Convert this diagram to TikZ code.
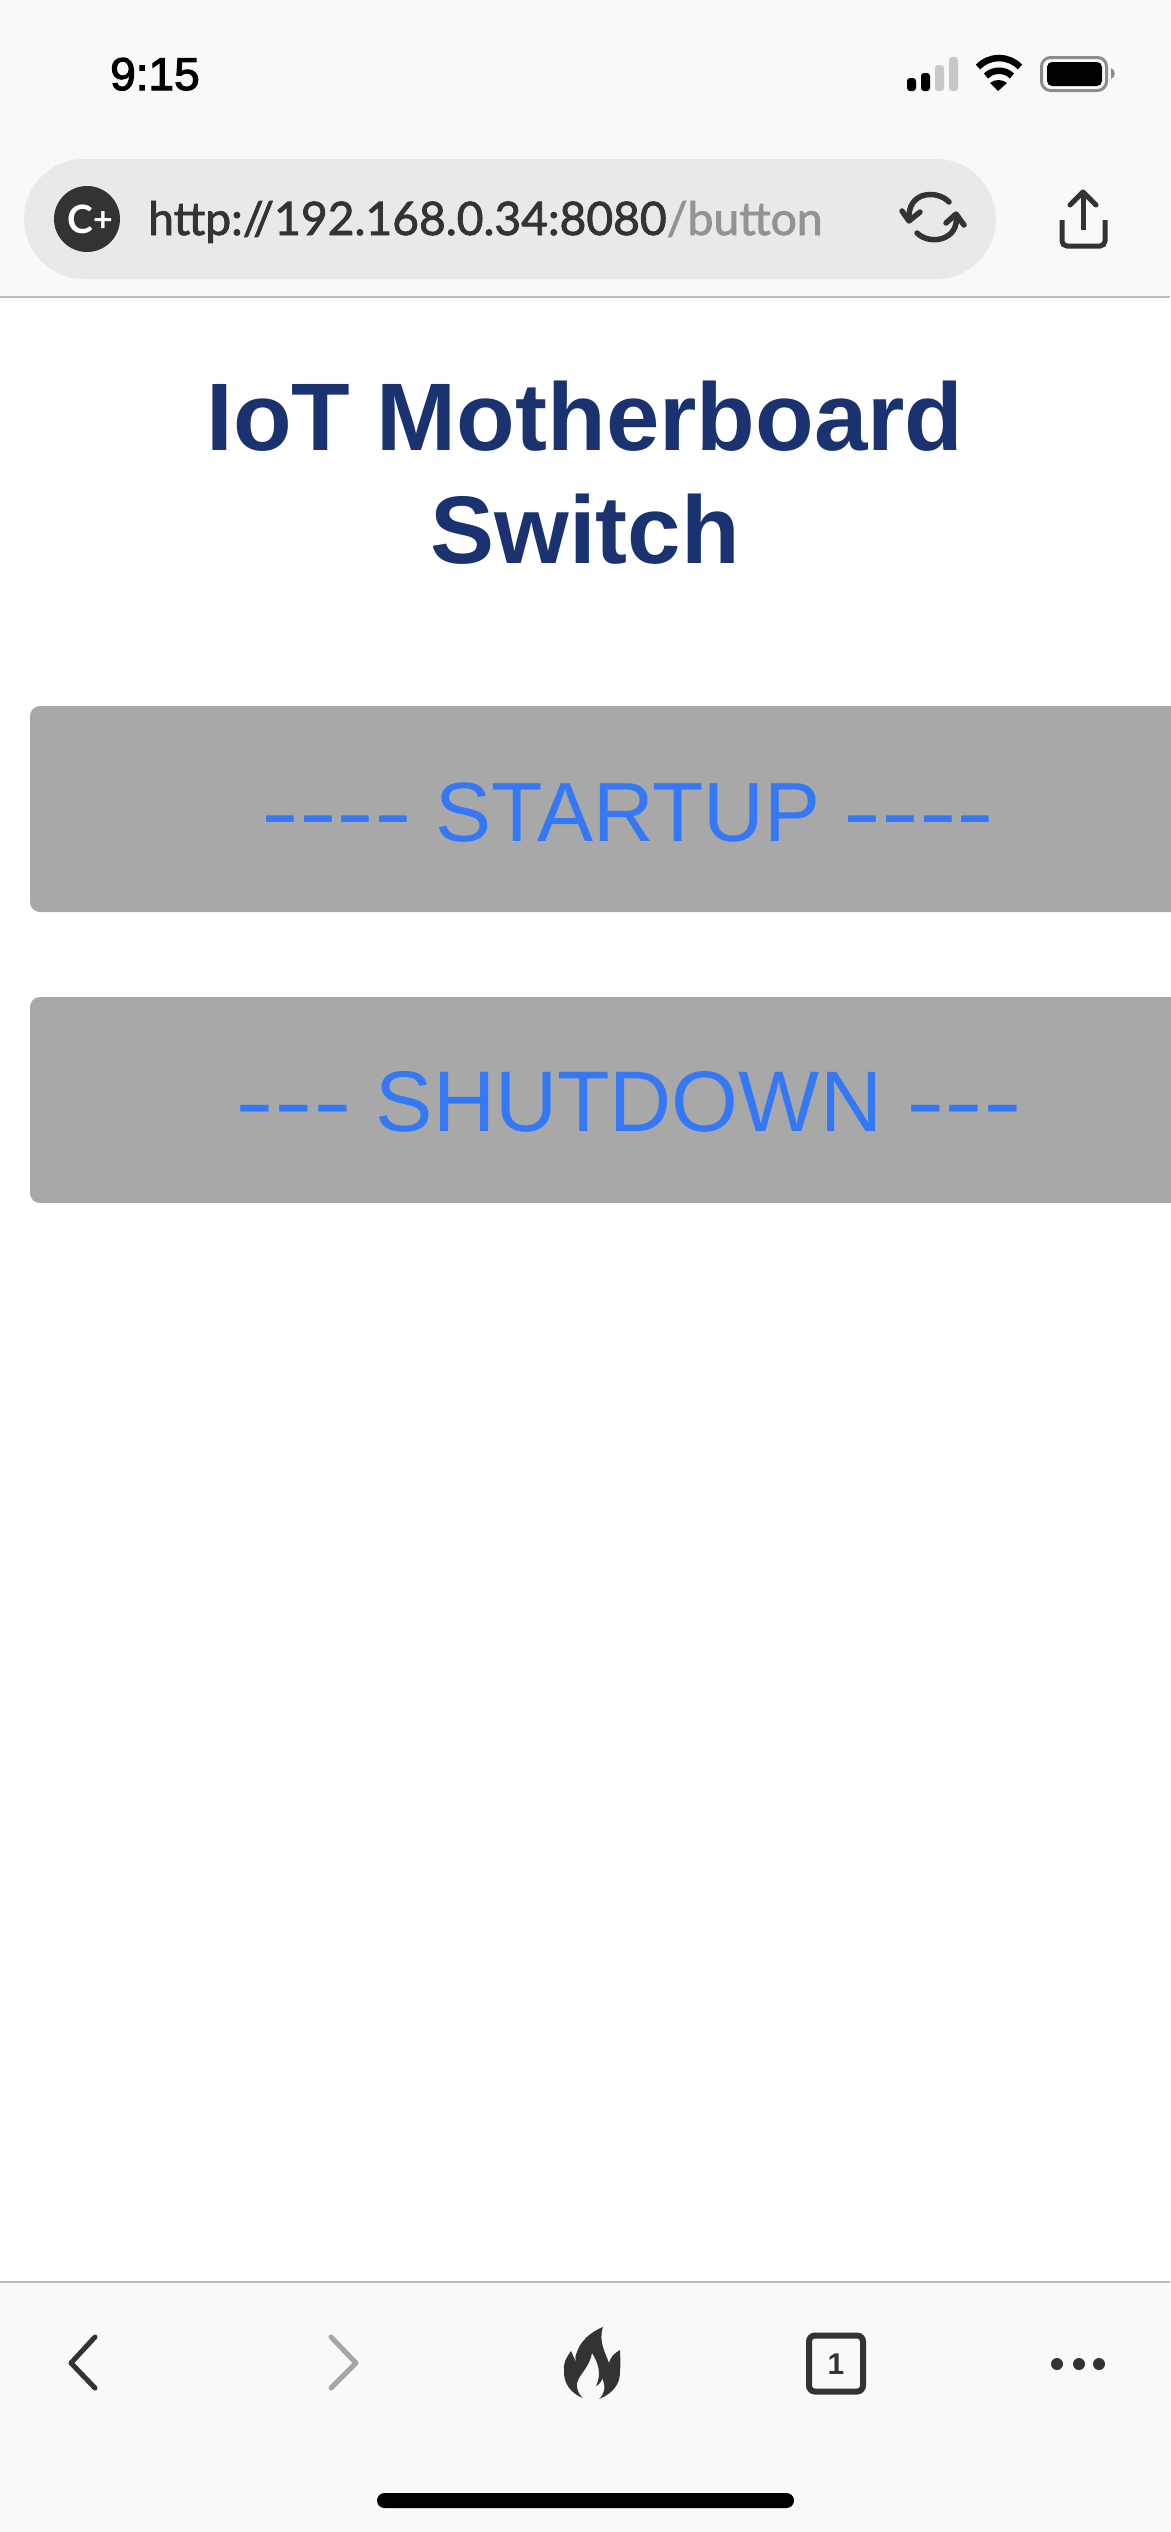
\documentclass[tikz,border=0pt]{standalone}
\usepackage{fontspec}
\usepackage{xcolor}
\usetikzlibrary{positioning, calc}
\setmainfont{Liberation Sans}
\newfontfamily\urlfont[FakeBold=1.8]{Lato}
\newfontfamily\badgefont{Lato}
\newfontfamily\clockfont[FakeBold=2.5]{Liberation Sans}
\newcommand{\dashrun}[1]{\scalebox{1.35}[1]{#1}}
\definecolor{cBar}{RGB}{249,249,249}
\definecolor{cPill}{RGB}{233,233,233}
\definecolor{cIcon}{RGB}{51,51,51}
\definecolor{cRule}{RGB}{190,190,190}
\definecolor{cDim}{RGB}{200,200,200}
\definecolor{cCase}{RGB}{140,140,140}
\definecolor{cTitle}{RGB}{26,51,112}
\definecolor{cBtn}{RGB}{168,168,168}
\definecolor{cLabel}{RGB}{52,120,246}
\tikzset{
    btnbox/.style={fill=cBtn, rounded corners=10},
    btnlabel/.style={text=cLabel, inner sep=0, anchor=base, font=\fontsize{#1}{100}\selectfont},
    titleline/.style={text=cTitle, inner sep=0, anchor=base, font=\fontsize{96}{110}\selectfont\bfseries},
    navicon/.style={line width=5, line cap=round, line join=round},
    iconline/.style={cIcon, line width=5.5, line cap=round, line join=round},
}

\begin{document}
\begin{tikzpicture}[x=1pt, y=-1pt]
    \useasboundingbox (0,0) rectangle (1170,2532);
    \fill[white] (0,0) rectangle (1170,2532);

    % Top bar
    \fill[cBar] (0,0) rectangle (1170,297);
    \draw[cRule, line width=1.5] (0,297) -- (1170,297);
    \node[anchor=base west, inner sep=0, font=\fontsize{46}{50}\selectfont\clockfont] (clock) at (110,90) {9:15};

    % Signal bars
    \fill[rounded corners=3] (907,78) rectangle (916,91);
    \fill[rounded corners=3] (921,73) rectangle (930,91);
    \fill[cDim, rounded corners=3] (935,65) rectangle (944,91);
    \fill[cDim, rounded corners=3] (949,57) rectangle (958,91);

    % Wifi
    \fill (998,91) -- (990,83) .. controls (995,79) and (1002,79) .. (1007,83) -- cycle;
    \draw[line width=6.5] (986,76) .. controls (993,69) and (1005,69) .. (1012,76);
    \draw[line width=6.5] (978,67) .. controls (990,55) and (1008,55) .. (1020,67);

    % Battery
    \draw[cCase, line width=3, rounded corners=9] (1041.5,57.5) rectangle (1106.5,90.5);
    \fill[rounded corners=5] (1047,62) rectangle (1102,86);
    \fill[cCase] (1111,68) .. controls (1116,70) and (1116,77) .. (1111,79) -- cycle;

    % Address pill
    \fill[cPill, rounded corners=60] (24,159) rectangle (996,279);
    \fill[cIcon] (87,219) circle (33);
    \node[text=white, font=\fontsize{39}{40}\selectfont\badgefont\bfseries, inner sep=0] (badge) at (90,219) {C\raisebox{2pt}{\fontsize{34}{36}\selectfont+}};
    \node[anchor=base west, inner sep=0, text=cIcon, font=\fontsize{46.2}{50}\selectfont\urlfont] (url) at (148,235) {http://192.168.0.34:8080\textcolor{gray!85}{/button}};

    % Reload icon
    \draw[iconline] (949,202) .. controls (938,190) and (907,190) .. (909,220);
    \draw[iconline] (902,211) -- (909,221) -- (920,212);
    \draw[iconline] (917,233) .. controls (930,246) and (960,240) .. (956,215);
    \draw[iconline] (946,223) -- (956,214) -- (964,225);

    % Share icon
    \draw[cIcon, line width=5, line join=round] (1083,230) -- (1083,192);
    \draw[cIcon, line width=5, line join=round, line cap=round] (1070,205) -- (1083,192) -- (1096,205);
    \draw[cIcon, line width=5, rounded corners=5] (1062,220) -- (1062,246) -- (1105,246) -- (1105,220);

    % Title
    \node[titleline] (title1) at (585,450) {IoT Motherboard};
    \node[titleline] (title2) at (585,563) {Switch};

    % Buttons
    \fill[btnbox] (30,706) -- (30,912) -- (1190,912) -- (1190,706) -- cycle;
    \node[btnlabel=84] (startup) at (628,841) {\dashrun{-{}-{}-{}-} STARTUP \dashrun{-{}-{}-{}-}};
    \fill[btnbox] (30,997) -- (30,1203) -- (1190,1203) -- (1190,997) -- cycle;
    \node[btnlabel=86] (shutdown) at (629,1131) {\dashrun{-{}-{}-} SHUTDOWN \dashrun{-{}-{}-}};

    % Bottom bar
    \fill[cBar] (0,2282) rectangle (1170,2532);
    \draw[cRule, line width=1.5] (0,2282) -- (1170,2282);
    \draw[navicon, cIcon] (95,2337) -- (71,2363) -- (95,2388);
    \draw[navicon, gray!70] (331,2337) -- (356,2363) -- (331,2388);

    % Flame
    \fill[cIcon] (603,2327) .. controls (590,2332) and (580,2342) .. (577,2352) .. controls (575,2356) and (575,2359) .. (576,2362)
        -- (571,2351) .. controls (566,2358) and (563,2364) .. (564,2370)
        .. controls (563,2384) and (572,2394) .. (583,2398)
        .. controls (577,2393) and (575,2384) .. (579,2378) .. controls (584,2370) and (590,2364) .. (592,2353)
        .. controls (598,2362) and (602,2374) .. (596,2386)
        .. controls (600,2384) and (602,2381) .. (602,2378) .. controls (606,2386) and (605,2394) .. (599,2399)
        .. controls (612,2394) and (621,2384) .. (620,2370) .. controls (621,2362) and (620,2356) .. (620,2350)
        .. controls (614,2353) and (610,2358) .. (609,2363)
        .. controls (606,2354) and (598,2342) .. (603,2327) -- cycle;

    % Tabs
    \draw[cIcon, line width=6, rounded corners=6] (809,2335.5) rectangle (863,2391.5);
    \node[text=cIcon, font=\fontsize{30}{32}\selectfont\bfseries, inner sep=0] (tabcount) at (836,2364) {1};

    % Dots
    \foreach \dotx in {1057,1079,1099} {
        \fill[cIcon] (\dotx,2364) circle (6);
    }

    % Home indicator
    \fill[rounded corners=7.5] (377,2493) rectangle (794,2508);
\end{tikzpicture}
\end{document}
